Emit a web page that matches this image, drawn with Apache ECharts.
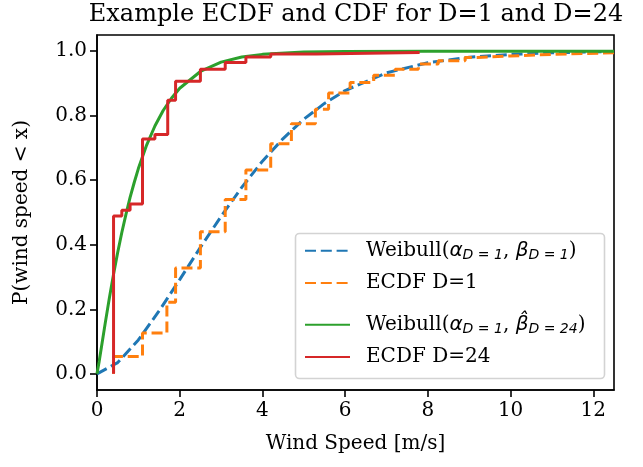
<!DOCTYPE html>
<html>
<head>
<meta charset="utf-8">
<script src="https://cdn.jsdelivr.net/npm/echarts@6/dist/echarts.min.js"></script>
<style>
  html, body { margin: 0; padding: 0; background: #fff; }
  #chart { width: 643px; height: 467px; }
</style>
</head>
<body>
<div id="chart"></div>
<script>
// values
const xTicks = [0, 2, 4, 6, 8, 10, 12];
const yTicks = [0, 0.2, 0.4, 0.6, 0.8, 1.0];

const seriesNames = ['Weibull D=1', 'ECDF D=1', 'Weibull D=24', 'ECDF D=24'];

// Weibull CDF fitted to D=1 (blue, dashed)
const weibullD1X = [0, 0.5, 1, 1.5, 2, 2.5, 3, 3.5, 4, 4.5, 5, 5.5, 6, 7, 8, 9, 10, 11, 12.5];
const weibullD1Y = [0, 0.035, 0.105, 0.195, 0.292, 0.392, 0.488, 0.578, 0.659, 0.729, 0.789, 0.838, 0.878, 0.933, 0.964, 0.981, 0.990, 0.995, 0.999];

// ECDF D=1 (orange, dashed steps): value after each jump
const ecdfD1X = [0.40, 0.40, 1.10, 1.69, 1.90, 2.50, 3.10, 3.60, 4.20, 4.70, 5.28, 5.60, 6.12, 6.69, 7.21, 7.77, 8.25, 8.90, 9.20, 10.0, 11.0, 12.5];
const ecdfD1Y = [0, 0.054, 0.127, 0.222, 0.328, 0.440, 0.540, 0.632, 0.713, 0.775, 0.820, 0.870, 0.903, 0.925, 0.944, 0.960, 0.970, 0.980, 0.985, 0.990, 0.995, 0.995];

// Weibull CDF for D=24 (green, solid)
const weibullD24X = [0, 0.05, 0.1, 0.2, 0.3, 0.4, 0.5, 0.6, 0.7, 0.8, 0.9, 1.0, 1.2, 1.4, 1.6, 1.8, 2.0, 2.5, 3.0, 3.5, 4.0, 5.0, 6.0, 8.0, 12.5];
const weibullD24Y = [0, 0.037, 0.077, 0.158, 0.236, 0.309, 0.376, 0.438, 0.494, 0.547, 0.593, 0.636, 0.709, 0.768, 0.816, 0.854, 0.885, 0.937, 0.966, 0.982, 0.990, 0.997, 0.999, 1.0, 1.0];

// ECDF D=24 (red, solid steps)
const ecdfD24X = [0.40, 0.40, 0.60, 0.80, 1.10, 1.40, 1.71, 1.90, 2.50, 3.10, 3.60, 4.20, 5.30, 7.80];
const ecdfD24Y = [0, 0.489, 0.507, 0.526, 0.728, 0.742, 0.848, 0.907, 0.944, 0.965, 0.982, 0.991, 0.996, 0.996];

const COLORS = ['#1f77b4', '#ff7f0e', '#2ca02c', '#d62728'];
const SERIF = "'DejaVu Serif', serif";
const SANS = "'DejaVu Sans', sans-serif";
const DASH = [11, 4.8];

const pairs = (xs, ys) => xs.map((x, i) => [x, ys[i]]);

// legend rich labels (mathtext look-alike)
const legendLabels = {
  'Weibull D=1': '{t|Weibull(}{m|α}{s|D = 1}{t|, }{m|β}{s|D = 1}{t|)}',
  'ECDF D=1': '{t|ECDF D=1}',
  'Weibull D=24': '{t|Weibull(}{m|α}{s|D = 1}{t|, }{m|β\u0302}{s|D = 24}{t|)}',
  'ECDF D=24': '{t|ECDF D=24}',
};
const legendRows = [252.7, 285, 326.7, 359];

const chart = echarts.init(document.getElementById('chart'), null, { renderer: 'canvas' });

const axisCommon = {
  axisLine: { show: true, onZero: false, lineStyle: { color: '#000', width: 1.6 } },
  axisTick: { show: true, length: 7, lineStyle: { color: '#000', width: 1.6 } },
  splitLine: { show: false },
  nameTextStyle: { fontFamily: SERIF, fontSize: 20, color: '#000' },
};

chart.setOption({
  animation: false,
  backgroundColor: '#fff',
  title: {
    text: 'Example ECDF and CDF for D=1 and D=24',
    left: 356,
    textAlign: 'center',
    top: 3,
    padding: 0,
    textStyle: { fontFamily: SERIF, fontSize: 24, fontWeight: 'normal', color: '#000' },
  },
  grid: {
    left: 97, top: 35, width: 517, height: 355,
    show: true, borderColor: '#000', borderWidth: 1.6, backgroundColor: 'transparent',
  },
  xAxis: Object.assign({}, axisCommon, {
    type: 'value', min: 0, max: 12.5,
    name: 'Wind Speed [m/s]', nameLocation: 'middle', nameGap: 44,
    axisTick: Object.assign({}, axisCommon.axisTick, { customValues: xTicks }),
    axisLabel: {
      customValues: xTicks, margin: 11,
      fontFamily: SERIF, fontSize: 20, color: '#000',
      formatter: v => String(v),
    },
  }),
  yAxis: Object.assign({}, axisCommon, {
    type: 'value', min: -0.05, max: 1.05,
    name: 'P(wind speed < x)', nameLocation: 'middle', nameGap: 65, nameRotate: 90,
    axisTick: Object.assign({}, axisCommon.axisTick, { customValues: yTicks }),
    axisLabel: {
      customValues: yTicks, margin: 10,
      fontFamily: SERIF, fontSize: 20, color: '#000',
      formatter: v => v.toFixed(1),
    },
  }),
  graphic: [{
    type: 'rect', z: 3,
    shape: { x: 295.5, y: 233.5, width: 309, height: 145, r: 4 },
    style: { fill: 'rgba(255,255,255,0.8)', stroke: '#d3d3d3', lineWidth: 1.6 },
  }],
  legend: seriesNames.map((name, i) => ({
    data: [name],
    left: 304,
    top: legendRows[i] - 12,
    padding: 0,
    itemWidth: 45,
    itemHeight: 24,
    selectedMode: false,
    z: 5,
    itemStyle: { opacity: 0 },
    formatter: n => legendLabels[n],
    textStyle: {
      fontFamily: SERIF, fontSize: 20, color: '#000',
      padding: [0, 0, 0, 11],
      rich: {
        t: { fontFamily: SERIF, fontSize: 20, color: '#000', lineHeight: 24 },
        m: { fontFamily: SANS, fontSize: 20, fontStyle: 'italic', color: '#000', lineHeight: 24 },
        s: { fontFamily: SANS, fontSize: 14, fontStyle: 'italic', color: '#000', lineHeight: 14, verticalAlign: 'bottom' },
      },
    },
  })),
  series: [
    {
      name: seriesNames[0], type: 'line', data: pairs(weibullD1X, weibullD1Y),
      symbol: 'none',
      lineStyle: { color: COLORS[0], width: 3, type: DASH }, itemStyle: { color: COLORS[0] },
    },
    {
      name: seriesNames[1], type: 'line', data: pairs(ecdfD1X, ecdfD1Y),
      symbol: 'none', step: 'end',
      lineStyle: { color: COLORS[1], width: 3, type: DASH }, itemStyle: { color: COLORS[1] },
    },
    {
      name: seriesNames[2], type: 'line', data: pairs(weibullD24X, weibullD24Y),
      symbol: 'none',
      lineStyle: { color: COLORS[2], width: 3 }, itemStyle: { color: COLORS[2] },
    },
    {
      name: seriesNames[3], type: 'line', data: pairs(ecdfD24X, ecdfD24Y),
      symbol: 'none', step: 'end',
      lineStyle: { color: COLORS[3], width: 3 }, itemStyle: { color: COLORS[3] },
    },
  ],
});
</script>
</body>
</html>
